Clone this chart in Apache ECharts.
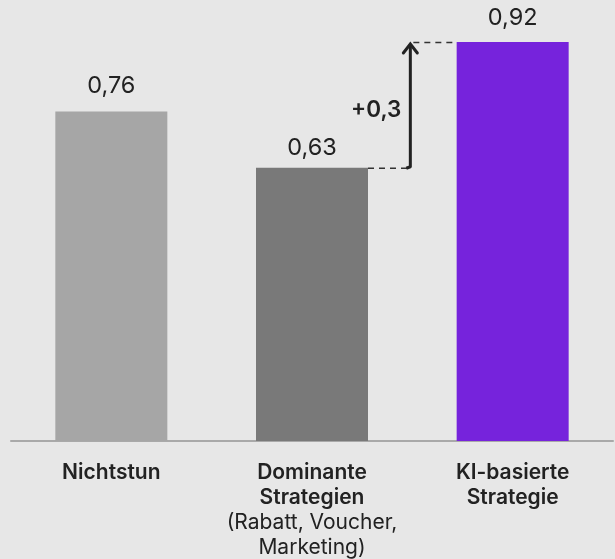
<!DOCTYPE html>
<html>
<head>
<meta charset="utf-8">
<script src="https://cdn.jsdelivr.net/npm/echarts@6/dist/echarts.min.js"></script>
<style>
html,body{margin:0;padding:0;background:#e7e7e7;}
#c{width:615px;height:559px;}
</style>
</head>
<body>
<div id="c"></div>
<script>
// Data
const categoryTitles = [["Nichtstun"], ["Dominante", "Strategien"], ["KI-basierte", "Strategie"]];
const categorySubtitles = [[], ["(Rabatt, Voucher,", "Marketing)"], []];
const values = [0.76, 0.63, 0.92];
const valueLabels = ["0,76", "0,63", "0,92"];
const deltaFrom = 1; // index of the compared bar
const deltaLabel = "+0,3";

const barColors = ['#a6a6a6', '#797979', '#7623dc'];
const labelGaps = [13.5, 8, 12.5];
const BAR_W = 112;
const FONT = 'Inter, Roboto, sans-serif';

const categories = categoryTitles.map((t, i) => i);

const chart = echarts.init(document.getElementById('c'));
chart.setOption({
  backgroundColor: '#e7e7e7',
  animation: false,
  grid: {left: 11, right: 2, top: 42, bottom: 118},
  xAxis: {
    type: 'category',
    data: categories,
    axisLine: {lineStyle: {color: '#a9a9a9', width: 2}},
    axisTick: {show: false},
    axisLabel: {
      margin: 19,
      interval: 0,
      formatter: function (v, idx) {
        const lines = categoryTitles[idx].map(s => '{b|' + s + '}')
          .concat(categorySubtitles[idx].map(s => '{r|' + s + '}'));
        return lines.join('\n');
      },
      rich: {
        b: {fontFamily: FONT, fontSize: 21, fontWeight: 600, color: '#222', lineHeight: 25},
        r: {fontFamily: FONT, fontSize: 21, fontWeight: 'normal', color: '#222', lineHeight: 25}
      }
    }
  },
  yAxis: {
    type: 'value', min: 0, max: 0.92, show: false,
    splitLine: {show: false}
  },
  series: [
    {
      type: 'bar',
      barWidth: BAR_W,
      data: values.map((v, i) => ({value: v, itemStyle: {color: barColors[i]}, label: {distance: labelGaps[i]}})),
      label: {
        show: true, position: 'top', distance: 12,
        fontFamily: FONT, fontSize: 23.5, color: '#222',
        formatter: p => valueLabels[p.dataIndex]
      }
    },
    {
      type: 'custom',
      coordinateSystem: 'cartesian2d',
      data: [[deltaFrom, values[deltaFrom], values[deltaFrom + 1]]],
      encode: {x: 0, y: 1},
      z: 5,
      renderItem: function (params, api) {
        const p1 = api.coord([api.value(0), api.value(1)]);
        const p2 = api.coord([api.value(0) + 1, api.value(2)]);
        const xa = (p1[0] + p2[0]) / 2 - 2;
        const dash = {stroke: '#333', lineWidth: 1.4, lineDash: [6, 5]};
        const ink = '#222';
        return {
          type: 'group',
          children: [
            {type: 'line', shape: {x1: p1[0] + BAR_W / 2, y1: p1[1] + 0.5, x2: xa - 2, y2: p1[1] + 0.5}, style: dash},
            {type: 'line', shape: {x1: xa + 3, y1: p2[1] + 0.5, x2: p2[0] - BAR_W / 2, y2: p2[1] + 0.5}, style: dash},
            {type: 'polyline', shape: {points: [[xa - 4, p1[1] + 0.5], [xa, p1[1] - 1], [xa, p2[1] + 2]]},
              style: {stroke: ink, lineWidth: 3, fill: null, lineJoin: 'round'}},
            {type: 'polyline', shape: {points: [[xa - 7, p2[1] + 11], [xa, p2[1] + 2], [xa + 7, p2[1] + 11]]},
              style: {stroke: ink, lineWidth: 3, fill: null, lineJoin: 'miter', lineCap: 'round'}},
            {type: 'text', x: xa - 9, y: (p1[1] + p2[1]) / 2 + 5,
              style: {text: deltaLabel, fill: ink, font: '600 22.5px ' + FONT, align: 'right', verticalAlign: 'middle'}}
          ]
        };
      }
    }
  ]
});
</script>
</body>
</html>
